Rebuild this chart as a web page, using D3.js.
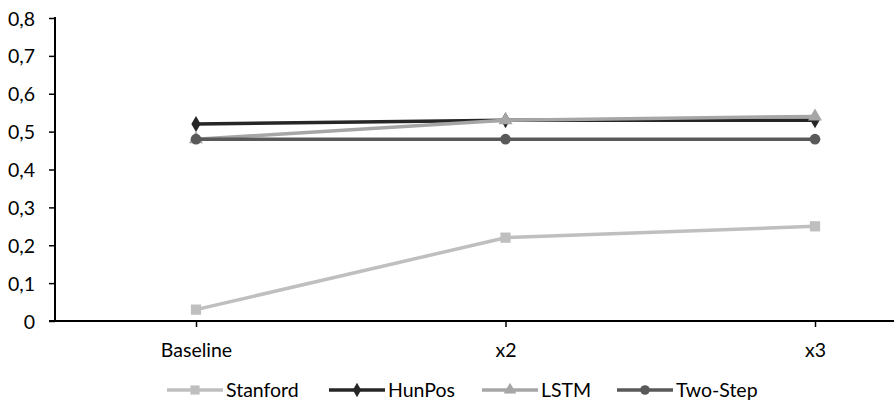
<!DOCTYPE html>
<html>
<head>
<meta charset="utf-8">
<script src="https://cdn.jsdelivr.net/npm/d3@7"></script>
<style>
  html, body { margin: 0; padding: 0; background: #fff; }
  svg { display: block; }
  text { font-family: Lato, "Open Sans", sans-serif; fill: #000; }
</style>
</head>
<body>
<svg id="chart" width="894" height="414"></svg>
<script>
// Categories and series
const categories = ["Baseline", "x2", "x3"];
const stanford = [0.03, 0.22, 0.25];
const hunpos   = [0.52, 0.53, 0.53];
const lstm     = [0.48, 0.53, 0.54];
const twoStep  = [0.48, 0.48, 0.48];
const yTicks   = [0, 0.1, 0.2, 0.3, 0.4, 0.5, 0.6, 0.7, 0.8];

const series = [
  { name: "Stanford", values: stanford, color: "#bfbfbf", symbol: d3.symbolSquare,   size: 105 },
  { name: "HunPos",   values: hunpos,   color: "#262626", symbol: d3.symbolDiamond,  size: 75 },
  { name: "LSTM",     values: lstm,     color: "#a6a6a6", symbol: d3.symbolTriangle, size: 85 },
  { name: "Two-Step", values: twoStep,  color: "#595959", symbol: d3.symbolCircle,   size: 90 }
];

const FONT = "19.5px";
const svg = d3.select("#chart");
const plot = { left: 55, right: 894, top: 18, bottom: 321 };

const x = d3.scalePoint()
  .domain(categories)
  .range([196, 815]);

const y = d3.scaleLinear()
  .domain([0, 0.8])
  .range([plot.bottom, plot.top]);

const fmt = d => d === 0 ? "0" : d3.format(".1f")(d).replace(".", ",");

// Y axis
const yAxis = svg.append("g")
  .attr("transform", `translate(${plot.left},0)`)
  .call(d3.axisLeft(y).tickValues(yTicks).tickFormat(fmt).tickSize(6).tickSizeOuter(0));
yAxis.select(".domain").attr("stroke", "#000").attr("stroke-width", 2)
  .attr("d", `M0,${plot.top - 1}V${plot.bottom + 1}`);
yAxis.selectAll(".tick line").attr("stroke", "#000").attr("stroke-width", 1.5);
yAxis.selectAll(".tick text")
  .attr("x", -20)
  .attr("dy", "0.36em")
  .style("font-size", FONT)
  .style("font-family", "Lato, 'Open Sans', sans-serif");

// X axis
const xAxis = svg.append("g")
  .attr("transform", `translate(0,${plot.bottom})`)
  .call(d3.axisBottom(x).tickSize(6).tickSizeOuter(0));
xAxis.select(".domain").attr("stroke", "#000").attr("stroke-width", 2)
  .attr("d", `M${plot.left - 6},0H${plot.right}`);
xAxis.selectAll(".tick line").attr("stroke", "#000").attr("stroke-width", 1.5);
xAxis.selectAll(".tick text")
  .attr("y", 22)
  .style("font-size", FONT)
  .style("font-family", "Lato, 'Open Sans', sans-serif");

// Lines and markers
const line = d3.line()
  .x((d, i) => x(categories[i]))
  .y(d => y(d));

series.forEach(s => {
  const g = svg.append("g");
  g.append("path")
    .datum(s.values)
    .attr("d", line)
    .attr("fill", "none")
    .attr("stroke", s.color)
    .attr("stroke-width", 3.5)
    .attr("stroke-linejoin", "round");
  g.selectAll("path.marker")
    .data(s.values)
    .join("path")
    .attr("class", "marker")
    .attr("d", d3.symbol().type(s.symbol).size(s.size))
    .attr("transform", (d, i) => `translate(${x(categories[i])},${y(d)})`)
    .attr("fill", s.color);
});

// Legend
const legendX = [167, 329, 482, 617];
const legendY = 390;
series.forEach((s, i) => {
  const g = svg.append("g").attr("transform", `translate(${legendX[i]},${legendY})`);
  g.append("line")
    .attr("x1", 0).attr("x2", 56)
    .attr("stroke", s.color).attr("stroke-width", 3.5);
  g.append("path")
    .attr("d", d3.symbol().type(s.symbol).size(s.size * 0.8))
    .attr("transform", "translate(28,0)")
    .attr("fill", s.color);
  g.append("text")
    .attr("x", 59)
    .attr("dy", "0.36em")
    .style("font-size", FONT)
    .text(s.name);
});
</script>
</body>
</html>
